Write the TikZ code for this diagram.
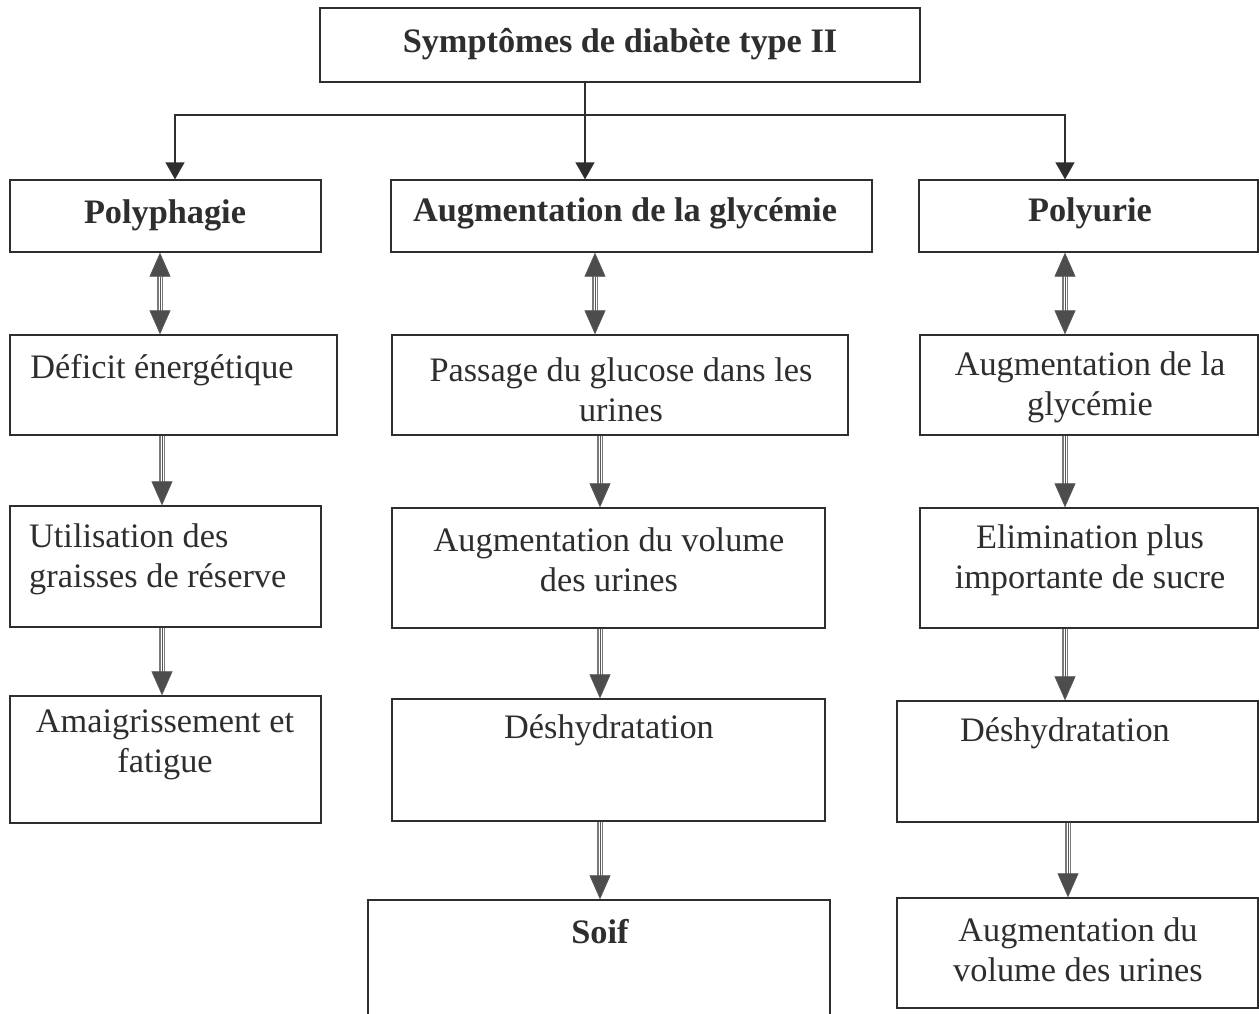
\documentclass[tikz,border=0pt]{standalone}
\usepackage{fontspec}
\setmainfont{Liberation Serif}
\usetikzlibrary{arrows.meta}
\definecolor{ink}{HTML}{2E2E2E}
\definecolor{shaftc}{HTML}{7A7A7A}
\tikzset{
  box/.style={draw=ink, line width=1.3pt, inner sep=0pt},
  lbl/.style={text=ink, align=center, inner sep=0pt, font=\fontsize{34.3}{40}\selectfont},
  lbll/.style={lbl, align=left},
  bl/.style={lbl, font=\fontsize{34.3}{40}\selectfont\bfseries},
  tree/.style={draw=ink, line width=1.3pt},
  treearrow/.style={tree, -{Triangle[width=19pt,length=17pt]}},
  shaft/.style={draw=shaftc, line width=1.4pt, double=white, double distance=3pt},
  tipd/.style={draw=ink!80, line width=0.6pt, -{Triangle[width=21pt,length=24pt, fill=ink!85]}},
  tipdd/.style={draw=ink!80, line width=0.6pt, {Triangle[width=21pt,length=24pt, fill=ink!85]}-{Triangle[width=21pt,length=24pt, fill=ink!85]}},
}
\newcommand\onearrow[2]{\draw[shaft, shorten >=20pt] #1 -- #2; \draw[tipd] #1 -- #2;}
\newcommand\twoarrow[2]{\draw[shaft, shorten >=20pt, shorten <=20pt] #1 -- #2; \draw[tipdd] #1 -- #2;}
\newcommand\bbox[5]{\node[box, minimum width={#4-#2}, minimum height={#5-#3}] (#1) at ({(#2+#4)/2},{(#3+#5)/2}) {};}
\begin{document}
\begin{tikzpicture}[x=1pt,y=-1pt]
\useasboundingbox (0,0) rectangle (1259,1013);
\fill[white] (0,0) rectangle (1259,1013);

% top
\bbox{top}{320}{8}{920}{82}
\node[bl] (ttop) at (620,44) {Symptômes de diabète type II};

% row 1
\bbox{poly}{10}{180}{321}{252}
\node[bl] (tpoly) at (165,215) {Polyphagie};
\bbox{glyc}{391}{180}{872}{252}
\node[bl] (tglyc) at (625,213) {Augmentation de la glycémie};
\bbox{polyu}{919}{180}{1258}{252}
\node[bl] (tpolyu) at (1090,213) {Polyurie};

% column 1
\bbox{c1a}{10}{335}{337}{435}
\node[lbl] (tc1a) at (162,370) {Déficit énergétique};
\bbox{c1b}{10}{506}{321}{627}
\node[lbll, anchor=west] (tc1b) at (29,559) {Utilisation des\\graisses de réserve};
\bbox{c1c}{10}{696}{321}{823}
\node[lbl] (tc1c) at (165,745) {Amaigrissement et\\fatigue};

% column 2
\bbox{c2a}{392}{335}{848}{435}
\node[lbl] (tc2a) at (621,390) {Passage du glucose dans les\\urines};
\bbox{c2b}{392}{508}{825}{628}
\node[lbl] (tc2b) at (609,560) {Augmentation du volume\\des urines};
\bbox{c2c}{392}{699}{825}{821}
\node[lbl] (tc2c) at (609,730) {Déshydratation};
\bbox{c2d}{368}{900}{830}{1040}
\node[bl] (tc2d) at (600,932) {Soif};

% column 3
\bbox{c3a}{920}{335}{1258}{435}
\node[lbl] (tc3a) at (1090,387) {Augmentation de la\\glycémie};
\bbox{c3b}{920}{508}{1258}{628}
\node[lbl] (tc3b) at (1090,560) {Elimination plus\\importante de sucre};
\bbox{c3c}{897}{701}{1258}{822}
\node[lbl] (tc3c) at (1065,733) {Déshydratation};
\bbox{c3d}{897}{898}{1258}{1008}
\node[lbl] (tc3d) at (1078,950) {Augmentation du\\volume des urines};

% column x positions
\coordinate (xa) at (175,0);
\coordinate (xb) at (585,0);
\coordinate (xc) at (1065,0);
\coordinate (x1d) at (160,0);
\coordinate (x1) at (162,0);
\coordinate (x2d) at (595,0);
\coordinate (x2) at (600,0);
\coordinate (x3) at (1065,0);
\coordinate (x3e) at (1068,0);

% tree connectors
\coordinate (j) at (585,115);
\draw[tree] (top.south -| xb) -- (j);
\draw[treearrow] (j) -| (poly.north -| xa);
\draw[treearrow] (j) -- (glyc.north -| xb);
\draw[treearrow] (j) -| (polyu.north -| xc);

% column 1 arrows
\twoarrow{(poly.south -| x1d)}{(c1a.north -| x1d)}
\onearrow{(c1a.south -| x1)}{(c1b.north -| x1)}
\onearrow{(c1b.south -| x1)}{(c1c.north -| x1)}

% column 2 arrows
\twoarrow{(glyc.south -| x2d)}{(c2a.north -| x2d)}
\onearrow{(c2a.south -| x2)}{(c2b.north -| x2)}
\onearrow{(c2b.south -| x2)}{(c2c.north -| x2)}
\onearrow{(c2c.south -| x2)}{(c2d.north -| x2)}

% column 3 arrows
\twoarrow{(polyu.south -| x3)}{(c3a.north -| x3)}
\onearrow{(c3a.south -| x3)}{(c3b.north -| x3)}
\onearrow{(c3b.south -| x3)}{(c3c.north -| x3)}
\onearrow{(c3c.south -| x3e)}{(c3d.north -| x3e)}
\end{tikzpicture}
\end{document}
